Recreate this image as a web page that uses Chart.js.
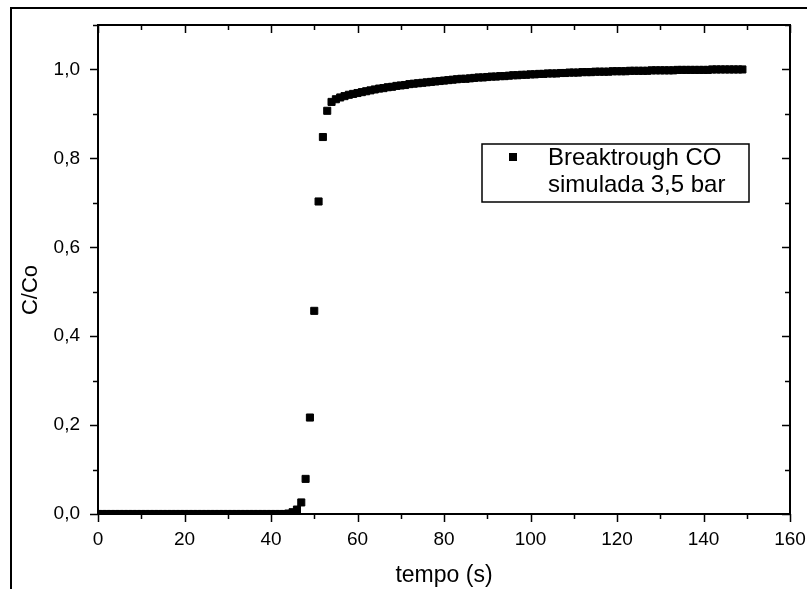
<!DOCTYPE html>
<html>
<head>
<meta charset="utf-8">
<script src="https://cdn.jsdelivr.net/npm/chart.js@4.4.0/dist/chart.umd.min.js"></script>
<style>
  html, body { margin: 0; padding: 0; background: #fff; }
  #wrap { position: relative; width: 807px; height: 589px; overflow: hidden; }
  #frame { position: absolute; left: 10px; top: 7px; width: 900px; height: 700px;
           border-left: 2px solid #000; border-top: 2px solid #000; }
  canvas { position: absolute; left: 0; top: 0; }
</style>
</head>
<body>
<div id="wrap">
  <div id="frame"></div>
  <canvas id="chart"></canvas>
</div>
<script>
// tempo (s): um ponto por segundo, 0..149
const tempo = [];
for (let t = 0; t <= 149; t++) tempo.push(t);

// C/Co
const cco = [
  0, 0, 0, 0, 0, 0, 0, 0, 0, 0,
  0, 0, 0, 0, 0, 0, 0, 0, 0, 0,
  0, 0, 0, 0, 0, 0, 0, 0, 0, 0,
  0, 0, 0, 0, 0, 0, 0, 0, 0, 0,
  0, 0, 0, 0, 0.001, 0.004, 0.010, 0.026, 0.079, 0.217,
  0.457, 0.703, 0.848, 0.907, 0.927, 0.933, 0.937, 0.940, 0.943, 0.945,
  0.947, 0.949, 0.951, 0.953, 0.955, 0.957, 0.958, 0.960, 0.961, 0.963,
  0.964, 0.965, 0.967, 0.968, 0.969, 0.970, 0.971, 0.972, 0.973, 0.974,
  0.975, 0.976, 0.977, 0.978, 0.979, 0.979, 0.980, 0.981, 0.982, 0.982,
  0.983, 0.984, 0.984, 0.985, 0.985, 0.986, 0.987, 0.987, 0.988, 0.988,
  0.989, 0.989, 0.990, 0.990, 0.991, 0.991, 0.991, 0.992, 0.992, 0.993,
  0.993, 0.993, 0.994, 0.994, 0.994, 0.995, 0.995, 0.995, 0.995, 0.996,
  0.996, 0.996, 0.996, 0.997, 0.997, 0.997, 0.997, 0.997, 0.998, 0.998,
  0.998, 0.998, 0.998, 0.998, 0.999, 0.999, 0.999, 0.999, 0.999, 0.999,
  0.999, 0.999, 1.000, 1.000, 1.000, 1.000, 1.000, 1.000, 1.000, 1.000
];

const legendLines = ['Breaktrough CO', 'simulada 3,5 bar'];
const xTitle = 'tempo (s)';
const yTitle = 'C/Co';

const FONT = '"Liberation Sans", Arial, sans-serif';

// moldura do gráfico + marcas de escala (maiores e menores) nos 4 lados
const framePlugin = {
  id: 'framePlugin',
  afterDraw(chart) {
    const ctx = chart.ctx;
    const a = chart.chartArea;
    const xs = chart.scales.x, ys = chart.scales.y;
    ctx.save();
    ctx.strokeStyle = '#000';
    ctx.lineWidth = 2;
    ctx.strokeRect(a.left, a.top, a.right - a.left, a.bottom - a.top);
    ctx.lineWidth = 1.5;
    ctx.beginPath();
    xs.ticks.forEach(t => {
      const px = Math.round(xs.getPixelForValue(t.value)) + 0.5;
      const major = t.value % 20 === 0;
      const len = major ? 8 : 5;
      ctx.moveTo(px, a.bottom); ctx.lineTo(px, a.bottom + len);
      ctx.moveTo(px, a.top); ctx.lineTo(px, a.top + len);
    });
    ys.ticks.forEach(t => {
      const py = Math.round(ys.getPixelForValue(t.value)) + 0.5;
      const major = Math.round(t.value * 10) % 2 === 0;
      const len = major ? 8 : 5;
      ctx.moveTo(a.left, py); ctx.lineTo(a.left - len, py);
      ctx.moveTo(a.right, py); ctx.lineTo(a.right - len, py);
    });
    ctx.stroke();

    // título do eixo y (um pouco abaixo do centro, como no original)
    ctx.translate(31, 290);
    ctx.rotate(-Math.PI / 2);
    ctx.fillStyle = '#000';
    ctx.font = '22px ' + FONT;
    ctx.textAlign = 'center';
    ctx.textBaseline = 'middle';
    ctx.fillText(yTitle, 0, 0);
    ctx.restore();
  }
};

// legenda dentro da área do gráfico
const legendPlugin = {
  id: 'legendPlugin',
  afterDraw(chart) {
    const ctx = chart.ctx;
    ctx.save();
    ctx.strokeStyle = '#000';
    ctx.lineWidth = 1.5;
    ctx.fillStyle = '#fff';
    ctx.fillRect(482, 144, 267, 58);
    ctx.strokeRect(482, 144, 267, 58);
    ctx.fillStyle = '#000';
    ctx.fillRect(509, 153, 8, 8);
    ctx.font = '24px ' + FONT;
    ctx.textBaseline = 'middle';
    ctx.textAlign = 'left';
    ctx.fillText(legendLines[0], 548, 158);
    ctx.fillText(legendLines[1], 548, 185);
    ctx.restore();
  }
};

function renderChart() {
  const ctx = document.getElementById('chart').getContext('2d');
  const points = tempo.map((t, i) => ({ x: t, y: cco[i] }));

  new Chart(ctx, {
    type: 'scatter',
    data: {
      datasets: [{
        label: legendLines.join(' '),
        data: points,
        pointStyle: 'rect',
        pointRadius: 5,
        pointBorderWidth: 1,
        backgroundColor: '#000',
        borderColor: '#000'
      }]
    },
    options: {
      responsive: true,
      maintainAspectRatio: false,
      animation: false,
      events: [],
      layout: { padding: { top: 25, right: 17, left: 0, bottom: 0 } },
      plugins: { legend: { display: false }, tooltip: { enabled: false } },
      scales: {
        x: {
          type: 'linear',
          min: 0, max: 160,
          grid: { display: false, drawTicks: false },
          border: { display: false },
          ticks: {
            stepSize: 10,
            autoSkip: false,
            maxRotation: 0,
            padding: 14,
            color: '#000',
            font: { family: FONT, size: 19 },
            callback: v => (v % 20 === 0 ? String(v) : '')
          },
          title: {
            display: true, text: xTitle, color: '#000',
            font: { family: FONT, size: 23 },
            padding: { top: 0, bottom: 0 }
          },
          afterFit: s => { s.height = 75; s.paddingLeft = 0; s.paddingRight = 0; }
        },
        y: {
          type: 'linear',
          min: 0, max: 1.1,
          grid: { display: false, drawTicks: false },
          border: { display: false },
          ticks: {
            stepSize: 0.1,
            autoSkip: false,
            padding: 18,
            color: '#000',
            font: { family: FONT, size: 19 },
            callback: v => (Math.round(v * 10) % 2 === 0 ? v.toFixed(1).replace('.', ',') : '')
          },
          afterFit: s => { s.width = 98; s.paddingTop = 0; s.paddingBottom = 0; }
        }
      }
    },
    plugins: [framePlugin, legendPlugin]
  });
}

if (document.readyState === 'loading') {
  document.addEventListener('DOMContentLoaded', renderChart);
} else {
  renderChart();
}
</script>
</body>
</html>
